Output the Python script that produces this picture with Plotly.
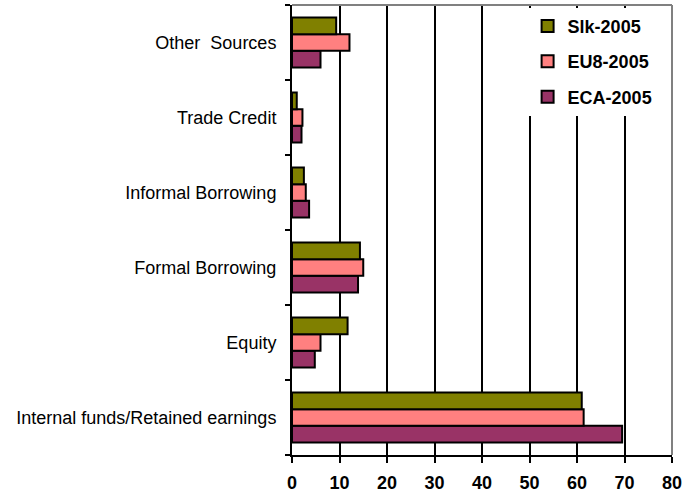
import plotly.graph_objects as go

# Sources of financing, bottom-to-top category order
categories = [
    "Internal funds/Retained earnings",
    "Equity",
    "Formal Borrowing",
    "Informal Borrowing",
    "Trade Credit",
    "Other\u00a0 Sources",
]
slk_2005 = [61.0, 11.7, 14.3, 2.5, 1.0, 9.3]
eu8_2005 = [61.4, 6.0, 15.0, 2.9, 2.2, 12.1]
eca_2005 = [69.5, 4.8, 13.9, 3.6, 2.0, 6.0]
x_ticks = [0, 10, 20, 30, 40, 50, 60, 70, 80]

FONT = "Arial, Liberation Sans, sans-serif"

# (name, values, colour, legend rank) - first trace sits lowest in each group
series = [
    ("ECA-2005", eca_2005, "#993366", 3),
    ("EU8-2005", eu8_2005, "#FF8080", 2),
    ("Slk-2005", slk_2005, "#808000", 1),
]

fig = go.Figure()
for name, vals, color, rank in series:
    fig.add_trace(go.Bar(
        y=categories, x=vals, name=name, orientation="h",
        legendrank=rank, legendgroup=name,
        marker=dict(color=color, line=dict(color="black", width=2)),
    ))

fig.update_layout(
    width=698, height=496,
    margin=dict(l=292, r=26, t=5, b=41, autoexpand=False),
    paper_bgcolor="white", plot_bgcolor="white",
    barmode="group", bargap=0.333, bargroupgap=0,
    font=dict(family=FONT, color="black", size=18),
    legend=dict(
        x=0.62, y=0.994, xanchor="left", yanchor="top",
        traceorder="grouped", tracegroupgap=9,
        bgcolor="white", borderwidth=0,
        font=dict(family=FONT, size=18, color="black", weight="bold"),
    ),
    xaxis=dict(
        range=[0, 80], tickvals=x_ticks, ticktext=[str(v) for v in x_ticks],
        showgrid=True, gridcolor="black", gridwidth=2,
        showline=True, linecolor="black", linewidth=2,
        ticks="outside", ticklen=6, tickwidth=2, tickcolor="black",
        ticklabelstandoff=4, automargin=False,
        tickfont=dict(family=FONT, size=18, color="black", weight="bold"),
        zeroline=False, fixedrange=True,
    ),
    yaxis=dict(
        type="category", categoryorder="array", categoryarray=categories,
        showline=True, linecolor="black", linewidth=2,
        ticks="outside", ticklen=5, tickwidth=2, tickcolor="black",
        tickson="boundaries", showgrid=False,
        ticklabelstandoff=10, automargin=False,
        tickfont=dict(family=FONT, size=18, color="black"),
        fixedrange=True,
    ),
    shapes=[
        # grey frame on the top and right edges of the plot area
        dict(type="line", xref="x domain", yref="y domain",
             x0=0, x1=1, y0=1, y1=1, layer="above",
             line=dict(color="#808080", width=2)),
        dict(type="line", xref="x domain", yref="y domain",
             x0=1, x1=1, y0=0, y1=1, layer="above",
             line=dict(color="#808080", width=2)),
    ],
)

fig.write_html("out.html")
